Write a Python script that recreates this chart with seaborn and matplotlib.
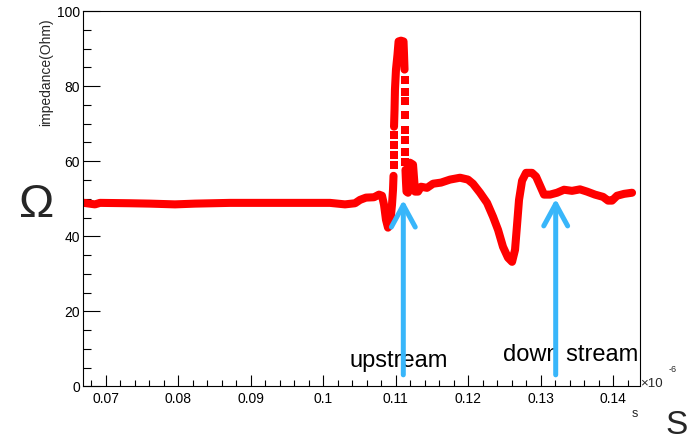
import numpy as np
import pandas as pd
import seaborn as sns
import matplotlib.pyplot as plt
from matplotlib.ticker import MultipleLocator, FuncFormatter

# Time in units of 1e-6 s, impedance in Ohm.
# Flat line, small step and dip just before the connector reflection.
t_pre = [0.06701, 0.06852, 0.06921, 0.07335, 0.07611, 0.07956, 0.08232, 0.08715,
         0.09404, 0.10094, 0.10301, 0.10439, 0.10508, 0.10590, 0.10701, 0.10770,
         0.10811, 0.10839, 0.10866, 0.10894, 0.10922, 0.10949, 0.10963, 0.10970]
z_pre = [48.9, 48.5, 48.9, 48.8, 48.7, 48.5, 48.7, 48.9,
         48.9, 48.9, 48.5, 48.8, 49.7, 50.3, 50.4, 51.1,
         50.8, 48.4, 44.4, 42.3, 43.1, 48.4, 52.4, 56.1]

# Sparse samples on the steep rising edge
t_rise = [0.10970, 0.10970, 0.10970, 0.10970]
z_rise = [58.9, 61.7, 64.4, 67.1]

# Top of the reflection peak
t_peak = [0.10977, 0.10984, 0.10990, 0.11004, 0.11025, 0.11040, 0.11073, 0.11108,
          0.11115, 0.11122]
z_peak = [69.2, 73.7, 79.1, 84.4, 88.4, 91.9, 92.1, 91.9,
          88.4, 84.4]

# Sparse samples on the steep falling edge
t_fall = [0.11128, 0.11128, 0.11128, 0.11128, 0.11128, 0.11128, 0.11128, 0.11128]
z_fall = [81.7, 78.5, 75.9, 72.4, 68.4, 65.7, 62.5, 59.9]

# Ringing after the peak, the cable dip and the downstream section
t_post = [0.11135, 0.11142, 0.11149, 0.11170, 0.11197, 0.11239, 0.11267, 0.11308,
          0.11350, 0.11432, 0.11515, 0.11625, 0.11749, 0.11887, 0.11997, 0.12066,
          0.12163, 0.12260, 0.12343, 0.12412, 0.12480, 0.12549, 0.12605, 0.12646,
          0.12674, 0.12701, 0.12743, 0.12798, 0.12880, 0.12936, 0.12991, 0.13046,
          0.13129, 0.13225, 0.13322, 0.13432, 0.13542, 0.13639, 0.13749, 0.13860,
          0.13929, 0.13984, 0.14053, 0.14150, 0.14260]
z_post = [57.7, 54.5, 51.9, 51.6, 59.6, 59.1, 51.9, 51.9,
          53.2, 52.9, 54.0, 54.3, 55.1, 55.6, 55.1, 54.0,
          51.6, 48.9, 45.2, 41.7, 37.2, 34.3, 33.2, 36.4,
          43.1, 49.7, 54.8, 56.9, 56.9, 55.9, 53.5, 51.1,
          51.1, 51.6, 52.4, 52.1, 52.5, 51.9, 51.1, 50.5,
          49.5, 49.5, 50.8, 51.3, 51.6]

# Arrow annotations
label_text = ["upstream", "down stream"]
label_t = [0.11046, 0.13418]
label_z = [5.3, 6.9]
arrow_t = [0.11105, 0.13207]
arrow_tip = [49.7, 50.0]
arrow_base = [3.1, 3.1]

sns.set_style("white")
plt.rcParams["font.family"] = ["Liberation Sans", "DejaVu Sans"]

fig = plt.figure(figsize=(6.95, 4.42), dpi=100)
ax = fig.add_axes([0.1194, 0.1256, 0.8015, 0.8495])

red = "#ff0000"
blue = "#38b6fa"

lines = pd.concat([
    pd.DataFrame({"t": t_pre, "z": z_pre, "seg": 0}),
    pd.DataFrame({"t": t_peak, "z": z_peak, "seg": 1}),
    pd.DataFrame({"t": t_post, "z": z_post, "seg": 2}),
], ignore_index=True)
sparse = pd.concat([
    pd.DataFrame({"t": t_rise, "z": z_rise}),
    pd.DataFrame({"t": t_fall, "z": z_fall}),
], ignore_index=True)

sns.lineplot(data=lines, x="t", y="z", units="seg", estimator=None, sort=False,
             color=red, linewidth=5.8, ax=ax, legend=False, zorder=2)
sns.scatterplot(data=sparse, x="t", y="z", marker="s", s=29, linewidth=0,
                color=red, ax=ax, legend=False, zorder=2)

for txt, tx, tz in zip(label_text, label_t, label_z):
    ax.text(tx, tz, txt, fontsize=17, ha="center", va="baseline", color="black", zorder=3)

for at, tip, base in zip(arrow_t, arrow_tip, arrow_base):
    ax.annotate("", xy=(at, tip), xytext=(at, base), zorder=4,
                arrowprops=dict(arrowstyle="->,head_length=1.58,head_width=0.86",
                                color=blue, lw=3.6, shrinkA=0, shrinkB=0,
                                capstyle="round", joinstyle="round",
                                mutation_scale=10))

ax.set_xlim(0.06687, 0.1437)
ax.set_ylim(0, 100)
ax.set_xlabel("")
ax.set_ylabel("")

ax.xaxis.set_major_locator(MultipleLocator(0.01))
ax.xaxis.set_minor_locator(MultipleLocator(0.002))
ax.yaxis.set_major_locator(MultipleLocator(20))
ax.yaxis.set_minor_locator(MultipleLocator(5))
ax.xaxis.set_major_formatter(FuncFormatter(lambda v, p: f"{round(v, 4):g}"))
ax.yaxis.set_major_formatter(FuncFormatter(lambda v, p: f"{v:g}"))

ax.tick_params(axis="both", which="both", direction="in", bottom=True, left=True,
               top=False, right=False, colors="black", labelsize=10, width=0.8)
ax.tick_params(axis="x", which="major", length=8, pad=4)
ax.tick_params(axis="x", which="minor", length=4)
ax.tick_params(axis="y", which="major", length=12, pad=2)
ax.tick_params(axis="y", which="minor", length=6)
for sp in ax.spines.values():
    sp.set_visible(True)
    sp.set_color("black")
    sp.set_linewidth(0.8)

fig.text(46 / 695, 1 - 18 / 442, "impedance(Ohm)", rotation=90, ha="center", va="top",
         fontsize=10)
fig.text(36.5 / 695, 1 - 217 / 442, "Ω", ha="center", va="baseline", fontsize=34)
fig.text(640 / 695, 1 - 387 / 442, "×10", ha="left", va="baseline", fontsize=9.5)
fig.text(669 / 695, 1 - 372 / 442, "-6", ha="left", va="baseline", fontsize=6.5)
fig.text(634.5 / 695, 1 - 417 / 442, "s", ha="center", va="baseline", fontsize=9)
fig.text(676.5 / 695, 1 - 434 / 442, "S", ha="center", va="baseline", fontsize=24)

fig.savefig("out.png", dpi=100, facecolor="white")
